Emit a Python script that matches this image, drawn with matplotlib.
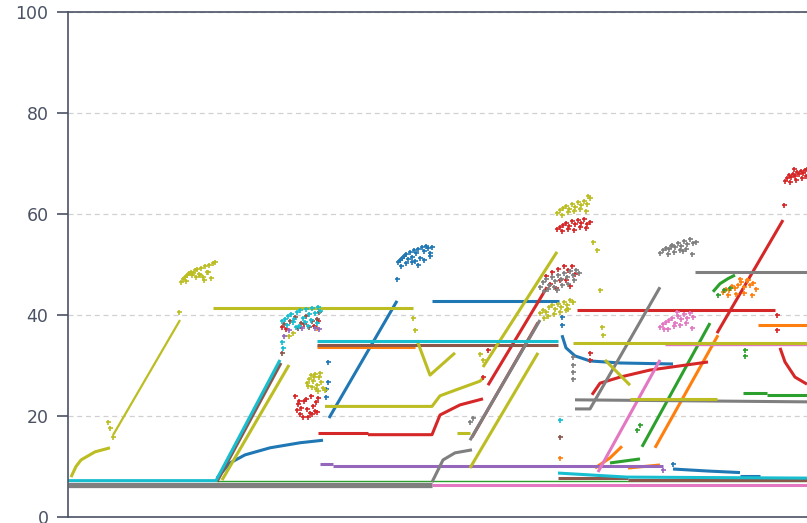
import matplotlib
matplotlib.use('Agg')
from matplotlib import pyplot as plt

# data: x is a step index, y is the value; each series is a list of traces (xs, ys)
blue_lines = [
    ([149, 162, 177, 202, 232, 255], [7.7, 10.7, 12.3, 13.7, 14.7, 15.2]),
    ([261, 329], [19.6, 42.8]),
    ([364, 491], [42.8, 42.8]),
    ([494, 498, 507, 522, 552, 605], [36.0, 33.5, 31.9, 30.9, 30.5, 30.3]),
    ([605, 640, 672], [9.5, 9.1, 8.8]),
    ([672, 692], [8.1, 8.1]),
]
blue_dots_x = [260, 260, 258, 258, 329, 494, 494, 605,
               330, 332, 334, 336, 338, 340, 342, 344, 346, 348, 350, 352, 354,
               356, 358, 360, 362, 364, 338, 344, 350, 356, 362, 333, 347]
blue_dots_y = [30.7, 26.7, 25.3, 23.8, 47.1, 39.6, 38.0, 10.5,
               50.4, 50.9, 51.3, 51.7, 52.1, 51.0, 52.5, 51.4, 52.9, 52.2, 53.1, 51.2, 53.4,
               52.6, 53.6, 53.2, 52.3, 53.5, 50.2, 50.5, 49.9, 50.8, 51.6, 49.8, 50.6]

orange_lines = [
    ([249, 347], [33.7, 33.7]),
    ([527, 542, 554], [9.7, 11.7, 14.0]),
    ([560, 592], [9.7, 10.3]),
    ([587, 650], [13.7, 36.0]),
    ([690, 740], [38.0, 38.0]),
]
orange_dots_x = [492, 249, 655, 658, 661, 664, 667, 670, 673, 676, 679, 682, 685, 688,
                 660, 668, 676, 684, 672, 680]
orange_dots_y = [11.7, 37.4, 44.6, 45.2, 44.9, 45.8, 45.3, 46.0, 46.5, 45.6, 46.9, 45.9, 46.4, 45.1,
                 43.9, 44.1, 44.4, 44.0, 47.2, 47.0]

green_thin = ([148, 740], [7.1, 7.1])
green_lines = [
    ([542, 572], [10.7, 11.5]),
    ([574, 642], [13.9, 38.4]),
    ([645, 652, 660, 667], [44.6, 46.2, 47.2, 47.9]),
    ([675, 699], [24.5, 24.5]),
    ([699, 740], [24.2, 24.2]),
]
green_dots_x = [677, 677, 569, 572, 650, 656, 662]
green_dots_y = [33.0, 31.9, 17.2, 18.3, 44.0, 45.0, 45.4]

red_lines = [
    ([250, 300], [16.6, 16.6]),
    ([300, 364, 372, 392, 415], [16.3, 16.3, 20.2, 22.2, 23.4]),
    ([420, 479], [26.1, 45.5]),
    ([404, 470], [15.8, 38.5]),
    ([509, 707], [41.0, 41.0]),
    ([524, 532, 552, 582, 640], [24.2, 26.5, 27.7, 29.1, 30.7]),
    ([649, 715], [36.4, 58.8]),
    ([712, 717, 727, 739], [33.5, 30.7, 27.7, 26.3]),
]
red_dots_x = [227, 230, 233, 236, 239, 242, 245, 248, 250, 232, 235, 240, 244, 247, 229, 238, 243, 249, 231,
              478, 484, 490, 496, 500, 504, 507, 482, 492, 498, 488, 502,
              489, 492, 495, 498, 501, 504, 507, 510, 513, 516, 519, 522, 494, 500, 506, 512, 518,
              717, 719, 721, 723, 725, 727, 729, 731, 733, 735, 737, 739, 722, 728, 734, 738, 726,
              716, 709, 709, 522, 522, 420, 415, 214, 218, 246, 250, 236]
red_dots_y = [23.9, 22.4, 21.6, 22.9, 21.3, 20.6, 21.9, 22.8, 23.6, 20.4, 19.8, 19.9, 20.3, 21.0, 21.2, 23.4, 24.0, 20.8, 23.0,
              47.8, 48.6, 49.2, 49.7, 48.9, 49.8, 48.2, 46.2, 46.9, 47.0, 45.4, 45.8,
              57.0, 57.5, 57.9, 58.3, 57.6, 58.6, 58.0, 58.9, 58.3, 59.1, 58.0, 58.5, 56.6, 57.1, 56.9, 57.5, 57.3,
              66.5, 67.2, 67.8, 67.4, 68.0, 67.6, 68.3, 67.9, 68.6, 68.1, 68.7, 68.9, 66.4, 66.8, 67.1, 67.5, 69.0,
              61.8, 40.0, 37.0, 32.5, 31.1, 33.1, 27.7, 37.7, 37.3, 37.9, 38.9, 38.3]

purple_lines = [
    ([252, 265], [10.5, 10.5]),
    ([265, 595], [10.1, 10.1]),
]
purple_dots_x = [221, 234, 247, 251, 216, 595]
purple_dots_y = [37.1, 37.5, 37.4, 37.2, 35.9, 9.3]

brown_lines = [
    ([149, 213], [7.0, 30.5]),
    ([249, 490], [34.1, 34.1]),
    ([490, 560], [7.8, 7.8]),
    ([560, 740], [7.4, 7.4]),
]
brown_dots_x = [492, 216, 222, 227, 233, 238, 244, 249, 251, 230, 241, 214]
brown_dots_y = [15.8, 38.2, 38.9, 39.6, 38.5, 39.9, 38.8, 39.2, 40.5, 37.4, 37.6, 32.5]

pink_lines = [
    ([364, 740], [6.3, 6.3]),
    ([530, 592], [8.9, 31.1]),
]
pink_thin = ([597, 740], [34.0, 34.0])
pink_dots_x = [592, 595, 598, 601, 604, 607, 610, 613, 616, 619, 622, 625, 600, 606, 612, 618, 624, 596, 609]
pink_dots_y = [37.6, 38.3, 38.7, 39.0, 39.4, 38.5, 39.8, 39.2, 40.1, 39.5, 40.3, 39.7, 37.3, 37.8, 38.0, 38.4, 37.4, 37.2, 40.5]

gray_base = ([0, 364], [6.3, 6.3])
gray_lines = [
    ([364, 375, 387, 404], [6.9, 11.3, 12.7, 13.3]),
    ([402, 472], [15.2, 39.0]),
    ([507, 740], [23.2, 22.8]),
    ([507, 522, 592], [21.4, 21.4, 45.5]),
    ([627, 740], [48.5, 48.5]),
]
gray_dots_x = [472, 475, 478, 481, 484, 487, 490, 493, 496, 499, 502, 505, 508, 511, 480, 486, 494, 500, 506, 476, 489,
               505, 505, 505, 505, 402, 405,
               592, 595, 598, 601, 604, 607, 610, 613, 616, 619, 622, 625, 628, 600, 606, 612, 618, 624, 603, 615]
gray_dots_y = [45.6, 46.5, 47.1, 46.0, 47.6, 46.8, 48.0, 47.2, 48.3, 47.5, 48.7, 47.9, 49.0, 48.4, 45.2, 45.6, 45.9, 46.1, 46.9, 44.8, 45.0,
               31.7, 30.1, 28.7, 27.3, 18.8, 19.6,
               52.2, 52.9, 53.3, 53.0, 53.9, 53.4, 54.3, 53.7, 54.6, 54.0, 55.0, 54.2, 54.5, 52.0, 52.5, 52.8, 53.1, 52.1, 53.6, 52.6]

olive_lines = [
    ([3, 8, 13, 27, 42], [7.9, 10.0, 11.3, 12.9, 13.7]),
    ([145, 345], [41.3, 41.3]),
    ([154, 221], [7.3, 30.1]),
    ([257, 364, 372, 387, 412, 416], [21.9, 21.9, 24.0, 25.1, 26.9, 27.7]),
    ([349, 362, 387], [35.0, 28.1, 32.5]),
    ([389, 402], [16.6, 16.6]),
    ([402, 470], [9.7, 32.5]),
    ([415, 489], [29.7, 52.5]),
    ([505, 740], [34.4, 34.4]),
    ([537, 562], [31.1, 26.1]),
    ([562, 649], [23.4, 23.4]),
]
olive_sparse = ([45, 112], [16.2, 39.0])
olive_dots_x = [40, 42, 45, 111, 345, 347,
                113, 115, 117, 119, 121, 123, 125, 127, 129, 131, 133, 135, 137, 139, 141, 143, 145, 147, 128, 132, 136, 124, 140, 118,
                239, 241, 243, 245, 247, 249, 251, 253, 255, 257, 244, 248, 252, 240, 250, 246,
                472, 475, 478, 481, 484, 487, 490, 493, 496, 499, 502, 505, 480, 486, 492, 498, 476, 500,
                489, 492, 495, 498, 501, 504, 507, 510, 513, 516, 519, 522, 494, 500, 506, 512, 518, 520,
                525, 529, 532, 534, 535, 225, 221, 412, 415]
olive_dots_y = [18.8, 17.6, 15.8, 40.6, 39.4, 37.0,
                46.5, 47.2, 47.6, 47.9, 48.3, 48.6, 48.4, 48.9, 49.1, 48.2, 49.4, 47.6, 49.7, 48.5, 49.9, 47.3, 50.2, 50.5, 47.5, 48.0, 46.9, 47.9, 48.6, 46.8,
                26.5, 27.4, 28.1, 27.0, 28.4, 26.2, 27.7, 26.8, 25.6, 25.2, 25.8, 25.4, 28.6, 25.9, 24.9, 27.8,
                40.3, 41.0, 40.6, 41.5, 41.9, 41.2, 42.2, 41.6, 42.6, 42.0, 42.9, 42.5, 39.8, 40.2, 40.5, 40.9, 39.5, 41.2,
                60.2, 60.8, 61.1, 61.6, 61.0, 62.0, 61.4, 62.3, 61.7, 62.6, 61.9, 63.2, 59.8, 60.3, 60.6, 60.9, 60.5, 63.5,
                54.5, 52.9, 45.0, 37.6, 36.0, 36.5, 35.8, 32.2, 31.0]

cyan_lines = [
    ([0, 148, 212], [7.2, 7.2, 31.1]),
    ([249, 490], [34.8, 34.8]),
    ([490, 559, 740], [8.7, 7.9, 7.7]),
]
cyan_dots_x = [215, 214, 492,
               214, 217, 220, 223, 226, 229, 232, 235, 238, 241, 244, 247, 250, 252, 219, 225, 231, 237, 243, 249, 228, 240]
cyan_dots_y = [33.5, 34.7, 19.2,
               38.8, 39.2, 39.8, 40.1, 39.3, 40.6, 40.9, 39.5, 41.1, 40.2, 41.3, 40.4, 41.5, 40.8, 38.1, 38.6, 37.9, 38.7, 39.1, 38.4, 37.6, 37.8]

y_ticks = [0, 20, 40, 60, 80, 100]

# style
INK = '#4a5263'
W = 807
H = 523

fig = plt.figure(figsize=(W / 100, H / 100), dpi=100)
ax = fig.add_axes([68 / W, 6 / H, 770 / W, 505 / H])


def draw_lines(traces, color, lw=2.2):
    for xs, ys in traces:
        ax.plot(xs, ys, color=color, lw=lw, solid_capstyle='butt', zorder=2)


def draw_dots(xs, ys, color):
    ax.plot(xs, ys, '+', color=color, ms=3.6, mew=1.2, zorder=3)


draw_lines(blue_lines, '#1f77b4')
draw_dots(blue_dots_x, blue_dots_y, '#1f77b4')
draw_lines(orange_lines, '#ff7f0e')
draw_dots(orange_dots_x, orange_dots_y, '#ff7f0e')
draw_lines([green_thin], '#2ca02c', lw=1.0)
draw_lines(green_lines, '#2ca02c')
draw_dots(green_dots_x, green_dots_y, '#2ca02c')
draw_lines(red_lines, '#d62728')
draw_dots(red_dots_x, red_dots_y, '#d62728')
draw_lines(purple_lines, '#9467bd')
draw_dots(purple_dots_x, purple_dots_y, '#9467bd')
draw_lines(brown_lines, '#8c564b')
draw_dots(brown_dots_x, brown_dots_y, '#8c564b')
draw_lines(pink_lines, '#e377c2')
draw_lines([pink_thin], '#e377c2', lw=1.0)
draw_dots(pink_dots_x, pink_dots_y, '#e377c2')
draw_lines([gray_base], '#7f7f7f', lw=3.8)
draw_lines(gray_lines, '#7f7f7f')
draw_dots(gray_dots_x, gray_dots_y, '#7f7f7f')
draw_lines(olive_lines, '#bcbd22')
draw_lines([olive_sparse], '#bcbd22', lw=1.6)
draw_dots(olive_dots_x, olive_dots_y, '#bcbd22')
draw_lines(cyan_lines, '#17becf')
draw_dots(cyan_dots_x, cyan_dots_y, '#17becf')

ax.set_xlim(0, 770)
ax.set_ylim(0, 100)
ax.set_yticks(y_ticks)
ax.set_xticks([])
ax.grid(axis='y', color='#d0d0d0', linestyle=(0, (4, 3)), linewidth=0.9, zorder=0)
ax.set_axisbelow(True)
for side in ['left', 'top', 'bottom']:
    ax.spines[side].set_color(INK)
    ax.spines[side].set_linewidth(1.2)
ax.spines['right'].set_visible(False)
ax.tick_params(axis='y', colors=INK, labelsize=12.5, length=8, width=1.2, pad=6)

fig.savefig('out.png', dpi=100)
